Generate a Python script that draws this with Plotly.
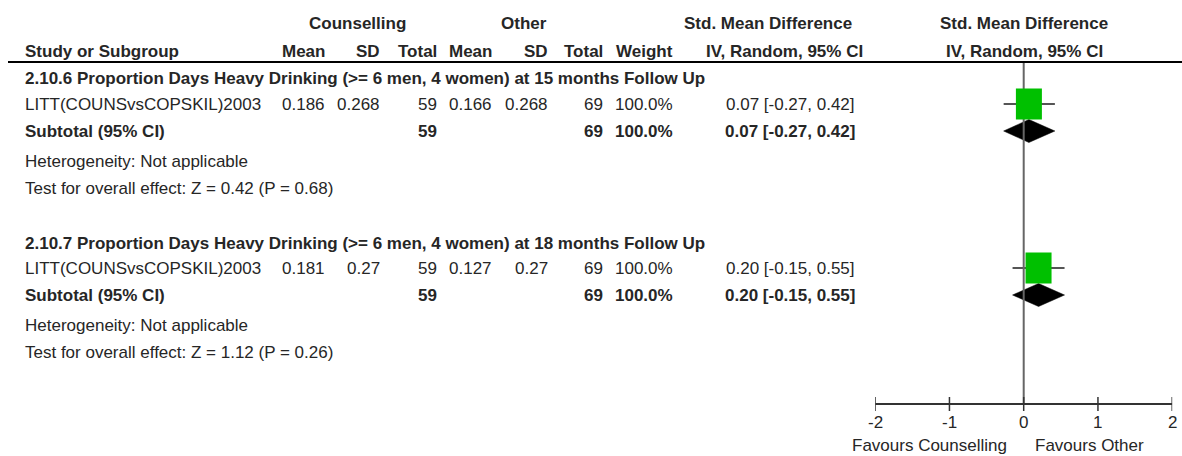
import plotly.graph_objects as go

# ---------------- data ----------------
group_titles = [
    "2.10.6 Proportion Days Heavy Drinking (>= 6 men, 4 women) at 15 months Follow Up",
    "2.10.7 Proportion Days Heavy Drinking (>= 6 men, 4 women) at 18 months Follow Up",
]
study_names = ["LITT(COUNSvsCOPSKIL)2003", "LITT(COUNSvsCOPSKIL)2003"]
coun_mean = ["0.186", "0.181"]
coun_sd = ["0.268", "0.27"]
coun_total = [59, 59]
other_mean = ["0.166", "0.127"]
other_sd = ["0.268", "0.27"]
other_total = [69, 69]
weights = ["100.0%", "100.0%"]
smd = [0.07, 0.20]
ci_low = [-0.27, -0.15]
ci_high = [0.42, 0.55]
heterogeneity = ["Heterogeneity: Not applicable", "Heterogeneity: Not applicable"]
z_values = [0.42, 1.12]
p_values = [0.68, 0.26]
tick_values = [-2, -1, 0, 1, 2]
favours_left = "Favours Counselling"
favours_right = "Favours Other"

# ---------------- layout constants (pixels) ----------------
W, H = 1182, 456
FONT = "Liberation Sans, Arial, sans-serif"
FS = 17
TXT = "#262626"
zero_px, unit_px = 1023.7, 74.25
group_y = [78, 243]
study_y = [104, 268]
sub_y = [131, 295]
het_y = [161, 325]
test_y = [188, 352]
line_y = 62
axis_y = 404

col_right = dict(cmean=327, csd=382, ctot=439, omean=494, osd=550, otot=605, weight=675, ci=857)

fig = go.Figure()
ann = []


def txt(xpx, y, text, anchor="left", bold=False, xref="paper", size=FS, color=TXT):
    ann.append(dict(
        x=xpx / W if xref == "paper" else xpx, xref=xref, y=y, yref="y",
        text=f"<b>{text}</b>" if bold else text, showarrow=False,
        xanchor=anchor, yanchor="middle",
        font=dict(family=FONT, size=size, color=color),
    ))


# headers
txt(357, 23, "Counselling", "center", True)
txt(524, 23, "Other", "center", True)
txt(768, 23, "Std. Mean Difference", "center", True)
txt(1024, 23, "Std. Mean Difference", "center", True)
txt(23, 51, "Study or Subgroup", "left", True)
txt(col_right["cmean"], 51, "Mean", "right", True)
txt(col_right["csd"], 51, "SD", "right", True)
txt(col_right["ctot"], 51, "Total", "right", True)
txt(col_right["omean"], 51, "Mean", "right", True)
txt(col_right["osd"], 51, "SD", "right", True)
txt(col_right["otot"], 51, "Total", "right", True)
txt(col_right["weight"], 51, "Weight", "right", True)
txt(784, 51, "IV, Random, 95% CI", "center", True)
txt(1024, 51, "IV, Random, 95% CI", "center", True)

shapes = [dict(type="line", xref="paper", yref="y", x0=8 / W, x1=1, y0=line_y, y1=line_y,
               line=dict(color="#000000", width=2))]

for i in range(len(group_titles)):
    gy, ys, yb = group_y[i], study_y[i], sub_y[i]
    ci_txt = f"{smd[i]:.2f} [{ci_low[i]:.2f}, {ci_high[i]:.2f}]"
    txt(23, gy, group_titles[i], "left", True)
    txt(23, ys, study_names[i])
    txt(col_right["cmean"], ys, coun_mean[i], "right")
    txt(col_right["csd"], ys, coun_sd[i], "right")
    txt(col_right["ctot"], ys, str(coun_total[i]), "right")
    txt(col_right["omean"], ys, other_mean[i], "right")
    txt(col_right["osd"], ys, other_sd[i], "right")
    txt(col_right["otot"], ys, str(other_total[i]), "right")
    txt(col_right["weight"], ys, weights[i], "right")
    txt(col_right["ci"], ys, ci_txt, "right")
    txt(23, yb, "Subtotal (95% CI)", "left", True)
    txt(col_right["ctot"], yb, str(coun_total[i]), "right", True)
    txt(col_right["otot"], yb, str(other_total[i]), "right", True)
    txt(col_right["weight"], yb, weights[i], "right", True)
    txt(col_right["ci"], yb, ci_txt, "right", True)
    txt(23, het_y[i], heterogeneity[i])
    txt(23, test_y[i], f"Test for overall effect: Z = {z_values[i]:.2f} (P = {p_values[i]:.2f})")

    # CI line
    fig.add_trace(go.Scatter(x=[ci_low[i], ci_high[i]], y=[ys, ys], mode="lines",
                             line=dict(color="#555555", width=2), hoverinfo="skip", showlegend=False))
    # square (pixel-sized, anchored at effect)
    shapes.append(dict(type="rect", xref="x", yref="y", xsizemode="pixel", xanchor=smd[i],
                       x0=-13, x1=13, y0=ys - 15.5, y1=ys + 15.5,
                       fillcolor="#00C000", line=dict(width=0)))
    # diamond
    fig.add_trace(go.Scatter(x=[ci_low[i], smd[i], ci_high[i], smd[i], ci_low[i]],
                             y=[yb, yb - 11.5, yb, yb + 11.5, yb], mode="lines", fill="toself",
                             fillcolor="#000000", line=dict(color="#000000", width=0.5),
                             hoverinfo="skip", showlegend=False))

# reference line at 0
fig.add_trace(go.Scatter(x=[0, 0], y=[line_y, axis_y], mode="lines",
                         line=dict(color="#666666", width=2), hoverinfo="skip", showlegend=False))
# axis line
fig.add_trace(go.Scatter(x=[tick_values[0], tick_values[-1]], y=[axis_y, axis_y], mode="lines",
                         line=dict(color="#333333", width=2), hoverinfo="skip", showlegend=False))
tx, ty = [], []
for t in tick_values:
    tx += [t, t, None]
    ty += [axis_y - 7, axis_y + 7, None]
fig.add_trace(go.Scatter(x=tx, y=ty, mode="lines", line=dict(color="#333333", width=1.5),
                         hoverinfo="skip", showlegend=False))
for t in tick_values:
    txt(t, 422, str(t), "center", xref="x")
txt(zero_px - 15, 445, favours_left, "right")
txt(zero_px + 9, 445, favours_right, "left")

x_lo = (zero_px + tick_values[0] * unit_px) / W
x_hi = (zero_px + tick_values[-1] * unit_px) / W
fig.update_layout(
    width=W, height=H, margin=dict(l=0, r=0, t=0, b=0),
    paper_bgcolor="white", plot_bgcolor="white",
    xaxis=dict(domain=[x_lo, x_hi], range=[tick_values[0], tick_values[-1]], visible=False, fixedrange=True),
    yaxis=dict(domain=[0, 1], range=[H, 0], visible=False, fixedrange=True),
    annotations=ann, shapes=shapes, showlegend=False,
)
fig.write_html("out.html", config={"displayModeBar": False},
               post_script="document.body.style.margin='0px';document.body.style.padding='0px';")
